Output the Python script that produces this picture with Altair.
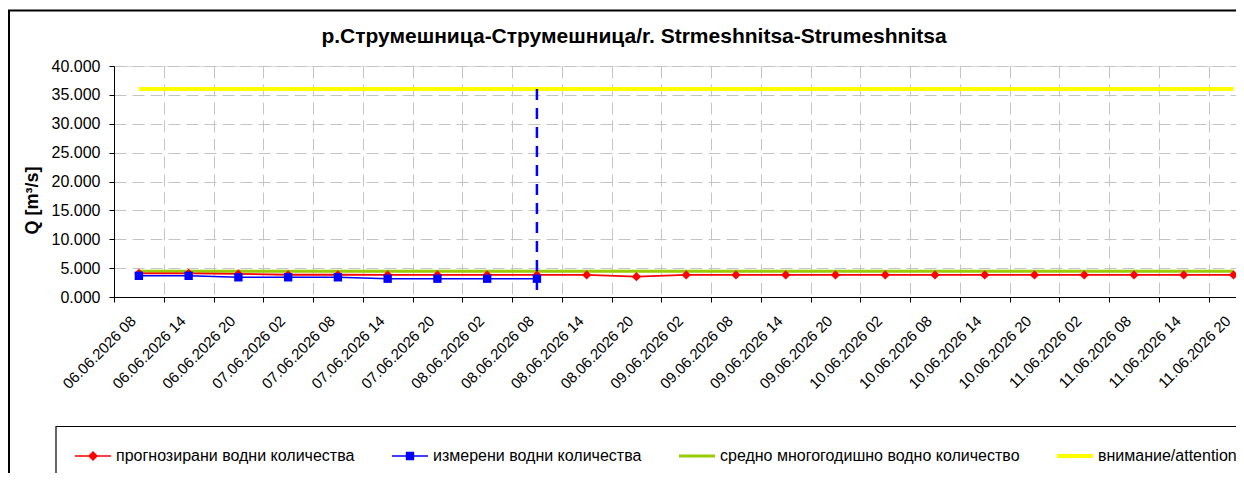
import altair as alt
import pandas as pd

# ---------------- data ----------------
labels = [
    "06.06.2026 08", "06.06.2026 14", "06.06.2026 20",
    "07.06.2026 02", "07.06.2026 08", "07.06.2026 14", "07.06.2026 20",
    "08.06.2026 02", "08.06.2026 08", "08.06.2026 14", "08.06.2026 20",
    "09.06.2026 02", "09.06.2026 08", "09.06.2026 14", "09.06.2026 20",
    "10.06.2026 02", "10.06.2026 08", "10.06.2026 14", "10.06.2026 20",
    "11.06.2026 02", "11.06.2026 08", "11.06.2026 14", "11.06.2026 20",
]
forecast = [4.10, 4.10, 4.00, 3.85, 3.85, 3.82, 3.82, 3.82, 3.82, 3.82, 3.52,
            3.82, 3.82, 3.82, 3.82, 3.82, 3.82, 3.82, 3.82, 3.82, 3.82, 3.82, 3.82]
measured = [3.67, 3.67, 3.41, 3.41, 3.41, 3.17, 3.17, 3.17, 3.17]
average_q = 4.48
attention_q = 36.0

series = ["прогнозирани водни количества", "измерени водни количества",
          "средно многогодишно водно количество", "внимание/attention"]
series_colors = ["#ff0000", "#0000ff", "#99cc00", "#ffff00"]
title_text = "р.Струмешница-Струмешница/r. Strmeshnitsa-Strumeshnitsa"
y_title = "Q [m³/s]"
y_ticks = [0, 5, 10, 15, 20, 25, 30, 35, 40]

# ---------------- layout ----------------
FONT = "Liberation Sans"
W, H = 1122, 231
n = len(labels)
x_max = 22.55            # the last category band is cut at the right edge
unit = W / x_max

df = pd.DataFrame({
    "pos": [i + 0.5 for i in range(n)],
    "label": labels,
    "forecast": forecast,
    "average": [average_q] * n,
    "attention": [attention_q] * n,
})
dm = pd.DataFrame({"pos": [i + 0.5 for i in range(len(measured))], "measured": measured})
rule_df = pd.DataFrame({"pos": [dm["pos"].iloc[-1]], "top": [attention_q], "bottom": [0.0]})
legend_df = pd.DataFrame({"series": series})

label_js = "[" + ",".join("'%s'" % l for l in labels) + "]"

grid_dash = [12, 6]
xscale = alt.Scale(domain=[0, x_max], nice=False, zero=False)
yscale = alt.Scale(domain=[0, 40], nice=False, zero=True)

xaxis = alt.Axis(
    values=list(range(n)), labelExpr=label_js + "[datum.value]",
    labelAngle=315, labelAlign="right", labelBaseline="middle",
    labelOffset=unit / 2 - 6, labelPadding=16, labelFontSize=15,
    labelColor="black", labelOverlap=False, labelFlush=False, labelBound=False,
    tickColor="black", tickSize=5, domainColor="black",
    grid=True, gridColor="#c4c4c4", gridDash=grid_dash, title=None,
)
yaxis = alt.Axis(
    values=y_ticks, format=".3f", labelFontSize=16, labelColor="black",
    labelPadding=9, tickColor="black", tickSize=5, domainColor="black",
    grid=True, gridColor="#c4c4c4", gridDash=grid_dash,
    title=y_title, titleFontSize=18, titleFontWeight="bold", titleColor="black",
    titleX=-82, titleY=134, titleAngle=270, titleAlign="center", titleBaseline="middle",
)

X = alt.X("pos:Q", scale=xscale, axis=xaxis)


def Y(field):
    return alt.Y(field + ":Q", scale=yscale, axis=yaxis)


base = alt.Chart(df)

frame = alt.Chart(legend_df.head(1)).mark_rect(
    filled=False, stroke="black", strokeWidth=2
).encode(x=alt.value(-105), x2=alt.value(1300), y=alt.value(-55.5), y2=alt.value(700))

legend_box = alt.Chart(legend_df.head(1)).mark_rect(
    filled=False, stroke="black", strokeWidth=1.2
).encode(x=alt.value(-58), x2=alt.value(1300), y=alt.value(360.5), y2=alt.value(700))

yellow = base.mark_line(color="#ffff00", strokeWidth=4).encode(x=X, y=Y("attention"))
green = base.mark_line(color="#99cc00", strokeWidth=3).encode(x=X, y=Y("average"))
red_line = base.mark_line(color="#ff0000", strokeWidth=1.8).encode(x=X, y=Y("forecast"))
red_pts = base.mark_point(shape="diamond", filled=True, size=85, color="#ff0000", opacity=1).encode(
    x=X, y=Y("forecast"))
blue_line = alt.Chart(dm).mark_line(color="#0000ff", strokeWidth=1.5).encode(x=X, y=Y("measured"))
blue_pts = alt.Chart(dm).mark_point(shape="square", filled=True, size=70, color="#0000ff", opacity=1).encode(
    x=X, y=Y("measured"))
rule = alt.Chart(rule_df).mark_rule(color="#0000ff", strokeWidth=2.5, strokeDash=[11, 8]).encode(
    x=X, y=Y("top"), y2=alt.Y2("bottom"))

# legend symbols: line + marker drawn as custom paths
legend_paths = [
    "M-1,0H1M0,-0.22L0.22,0L0,0.22L-0.22,0ZM0,-0.15L0.15,0L0,0.15L-0.15,0ZM0,-0.08L0.08,0L0,0.08L-0.08,0Z",
    "M-1,0H1M-0.19,-0.19H0.19V0.19H-0.19ZM-0.12,-0.12H0.12V0.12H-0.12ZM-0.05,-0.05H0.05V0.05H-0.05Z",
    "M-1,0H1M-1,-0.045H1M-1,0.045H1",
    "M-1,0H1M-1,-0.065H1M-1,0.065H1M-1,-0.03H1M-1,0.03H1",
]
leg = alt.Legend(
    orient="none", legendX=-40, legendY=371, direction="horizontal", title=None,
    labelFont=FONT, labelFontSize=16, labelColor="black", labelOffset=4, labelLimit=600,
    columnPadding=34, symbolSize=36 * 36, symbolStrokeWidth=1.5, symbolOpacity=1, padding=0,
)
legend_layer = alt.Chart(legend_df).transform_filter("false").mark_point(opacity=1).encode(
    stroke=alt.Stroke("series:N", scale=alt.Scale(domain=series, range=series_colors), legend=leg),
    shape=alt.Shape("series:N", scale=alt.Scale(domain=series, range=legend_paths), legend=leg),
)

chart = alt.layer(
    frame, legend_box, yellow, green, red_line, red_pts, blue_line, blue_pts, rule, legend_layer
).properties(
    width=W, height=H,
    title=alt.TitleParams(title_text, anchor="middle", frame="group", dx=-41, offset=-54.5,
                          baseline="alphabetic", fontSize=21, fontWeight="bold", font=FONT, color="black"),
    autosize=alt.AutoSizeParams(type="none"),
    padding={"left": 106, "top": 58, "right": 0, "bottom": 176},
).configure_axis(
    labelFont=FONT, titleFont=FONT,
).configure_view(strokeWidth=0).configure(background="white")

chart.save("out.html", embed_options={"renderer": "svg", "actions": False})
